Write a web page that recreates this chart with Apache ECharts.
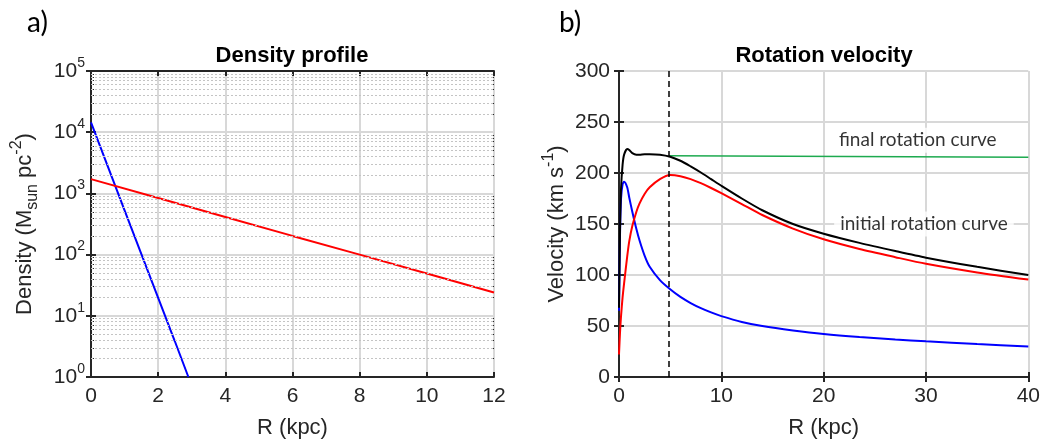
<!DOCTYPE html>
<html>
<head>
<meta charset="utf-8">
<script src="https://cdn.jsdelivr.net/npm/echarts@6/dist/echarts.min.js"></script>
<style>
  html, body { margin: 0; padding: 0; background: #fff; }
  #chart { width: 1043px; height: 444px; }
</style>
</head>
<body>
<div id="chart"></div>
<script>
// a) density profile (log axis)
const densBulgeR = [0, 0.5, 1, 1.5, 2, 2.5, 2.9];
const densBulge = [14500, 2770, 530, 102, 19.6, 3.8, 1];
const densDiskR = [0, 2, 4, 6, 8, 10, 12];
const densDisk = [1710, 840, 412, 202, 100, 49, 24];
const densExp = [0, 1, 2, 3, 4, 5];
const densMinor = [2, 3, 4, 5, 6, 7, 8, 9, 20, 30, 40, 50, 60, 70, 80, 90,
  200, 300, 400, 500, 600, 700, 800, 900, 2000, 3000, 4000, 5000, 6000, 7000, 8000, 9000,
  20000, 30000, 40000, 50000, 60000, 70000, 80000, 90000];

// b) rotation velocity
const rotR = [0, 0.1, 0.2, 0.35, 0.5, 0.8, 1, 1.3, 1.7, 2, 2.5, 3, 4, 5, 6, 7, 8, 9, 10, 12, 14, 17, 20, 23.5, 27, 30, 35, 40];
const vBulge = [65, 140, 175, 189, 191.5, 186, 176, 162, 145, 134, 119, 108, 95, 86, 78.5, 72.5, 67.5, 63.3, 59.7, 54, 50, 45.7, 42.2, 39.2, 36.8, 35, 32.3, 30];
const vDisk = [22, 44, 60, 78, 92, 118, 133, 148, 162, 170, 179.5, 186, 194, 198, 196.8, 194, 190, 185.3, 180.2, 169.5, 158.8, 145.5, 135, 125.5, 117.5, 111, 102.5, 95.5];
const vTotal = [68, 145, 185, 208, 218, 223.5, 222.5, 219.5, 218, 218, 218.5, 218.5, 218, 216, 212, 206.5, 200.5, 194, 187.5, 175, 163.5, 150, 140.5, 131.5, 123.5, 117, 108, 100];
const finalR = [4.9, 40];
const vFinal = [217, 215.5];
const cutR = 4.9;
const noteNames = ['final rotation curve', 'initial rotation curve'];
const noteR = [29.2, 29.8];
const noteV = [232, 150];

const axisColor = '#262626';
const gridColor = '#d8d8d8';
const font = 'Liberation Sans';

let chart = echarts.init(document.getElementById('chart'));

const zip = (xs, ys) => xs.map((x, i) => [x, ys[i]]);

const tickStyle = (show) => ({
  axisLine: { show: true, lineStyle: { color: axisColor, width: 2 } },
  axisTick: { show: true, inside: true, length: 5, lineStyle: { color: axisColor, width: 2 } },
  axisLabel: { show: show, color: axisColor, fontFamily: font, fontSize: 21, margin: 9 },
  splitLine: { show: false },
});

const mainX = (gridIndex, max, interval) => Object.assign(tickStyle(true), {
  type: 'value', gridIndex, min: 0, max, interval, position: 'bottom',
  name: 'R (kpc)', nameLocation: 'middle', nameGap: 40,
  nameTextStyle: { color: axisColor, fontFamily: font, fontSize: 22 },
  splitLine: { show: true, lineStyle: { color: gridColor, width: 2 } },
});
const topX = (gridIndex, max, interval) => Object.assign(tickStyle(false), {
  type: 'value', gridIndex, min: 0, max, interval, position: 'top',
});
// short minor ticks on the log axis
const minorLogY = (position) => ({
  type: 'log', logBase: 10, gridIndex: 0, min: 1, max: 100000, position,
  axisLine: { show: false },
  axisLabel: { show: false },
  splitLine: { show: false },
  axisTick: { show: true, inside: true, length: 3, customValues: densMinor, lineStyle: { color: axisColor, width: 1 } },
});

let option = {
  animation: false,
  backgroundColor: '#fff',
  grid: [
    { left: 91, top: 71, width: 403, height: 309 },
    { left: 619, top: 71, width: 410.5, height: 310 },
  ],
  graphic: [
    { type: 'text', x: 27, y: 23, style: { text: 'a)', font: '28px Lato', fill: '#000', textAlign: 'left', textVerticalAlign: 'middle' } },
    { type: 'text', x: 559, y: 23, style: { text: 'b)', font: '28px Lato', fill: '#000', textAlign: 'left', textVerticalAlign: 'middle' } },
    { type: 'text', x: 292, y: 56, style: { text: 'Density profile', font: 'bold 22px "Liberation Sans"', fill: '#000', textAlign: 'center', textVerticalAlign: 'middle' } },
    { type: 'text', x: 824, y: 56, style: { text: 'Rotation velocity', font: 'bold 22px "Liberation Sans"', fill: '#000', textAlign: 'center', textVerticalAlign: 'middle' } },
  ],
  xAxis: [
    mainX(0, 12, 2), topX(0, 12, 2),
    mainX(1, 40, 10), topX(1, 40, 10),
  ],
  yAxis: [
    Object.assign(tickStyle(true), {
      type: 'log', logBase: 10, gridIndex: 0, min: 1, max: 100000, position: 'left',
      splitLine: { show: true, lineStyle: { color: gridColor, width: 2 } },
      axisLabel: {
        color: axisColor, fontFamily: font, fontSize: 21, margin: 6,
        formatter: (v) => '{b|10}{sup|' + densExp[Math.round(Math.log10(v))] + '}',
        rich: {
          b: { fontFamily: font, fontSize: 21, color: axisColor, lineHeight: 30, verticalAlign: 'middle' },
          sup: { fontFamily: font, fontSize: 14, color: axisColor, verticalAlign: 'top' },
        },
      },
      name: '{b|Density (M}{sub|sun}{b| pc}{sup|-2}{b|)}',
      nameLocation: 'middle', nameGap: 50,
      nameTextStyle: {
        rich: {
          b: { fontFamily: font, fontSize: 22, color: axisColor, lineHeight: 32, verticalAlign: 'middle' },
          sub: { fontFamily: font, fontSize: 16, color: axisColor, verticalAlign: 'bottom' },
          sup: { fontFamily: font, fontSize: 16, color: axisColor, verticalAlign: 'top' },
        },
      },
    }),
    Object.assign(tickStyle(false), {
      type: 'log', logBase: 10, gridIndex: 0, min: 1, max: 100000, position: 'right',
    }),
    Object.assign(tickStyle(true), {
      type: 'value', gridIndex: 1, min: 0, max: 300, interval: 50, position: 'left',
      splitLine: { show: true, lineStyle: { color: gridColor, width: 2 } },
      name: '{b|Velocity (km s}{sup|-1}{b|)}',
      nameLocation: 'middle', nameGap: 46,
      nameTextStyle: {
        rich: {
          b: { fontFamily: font, fontSize: 22, color: axisColor, lineHeight: 32, verticalAlign: 'middle' },
          sup: { fontFamily: font, fontSize: 16, color: axisColor, verticalAlign: 'top' },
        },
      },
    }),
    Object.assign(tickStyle(false), {
      type: 'value', gridIndex: 1, min: 0, max: 300, interval: 50, position: 'right',
    }),
    minorLogY('left'),
    minorLogY('right'),
  ],
  series: [
    // minor log grid (dotted)
    {
      type: 'line', xAxisIndex: 0, yAxisIndex: 0, data: [], z: 1, silent: true,
      markLine: {
        silent: true, symbol: 'none', label: { show: false },
        lineStyle: { color: '#c4c4c4', type: [2, 2], width: 1 },
        data: densMinor.map((v) => ({ yAxis: v })),
      },
    },
    {
      type: 'line', xAxisIndex: 0, yAxisIndex: 0, data: zip(densBulgeR, densBulge),
      showSymbol: false, lineStyle: { color: '#0000ff', width: 2 }, z: 3,
    },
    {
      type: 'line', xAxisIndex: 0, yAxisIndex: 0, data: zip(densDiskR, densDisk),
      showSymbol: false, lineStyle: { color: '#ff0000', width: 2 }, z: 3,
    },
    // text notes
    {
      type: 'scatter', xAxisIndex: 2, yAxisIndex: 2, symbolSize: 0, z: 2,
      data: noteR.map((r, i) => ({ value: [r, noteV[i]], name: noteNames[i] })),
      label: {
        show: true, position: 'inside', formatter: '{b}',
        fontFamily: 'Lato', fontSize: 19, color: '#000',
        backgroundColor: '#fff', padding: [3, 6],
      },
    },
    {
      type: 'line', xAxisIndex: 2, yAxisIndex: 2, data: zip(finalR, vFinal),
      showSymbol: false, lineStyle: { color: '#1daa4f', width: 1.5 }, z: 3,
    },
    {
      type: 'line', xAxisIndex: 2, yAxisIndex: 2, data: zip(rotR, vBulge),
      showSymbol: false, smooth: 0.25, lineStyle: { color: '#0000ff', width: 2 }, z: 3,
    },
    {
      type: 'line', xAxisIndex: 2, yAxisIndex: 2, data: zip(rotR, vDisk),
      showSymbol: false, smooth: 0.25, lineStyle: { color: '#ff0000', width: 2 }, z: 3,
    },
    {
      type: 'line', xAxisIndex: 2, yAxisIndex: 2, data: zip(rotR, vTotal),
      showSymbol: false, smooth: 0.25, lineStyle: { color: '#000', width: 2 }, z: 4,
      markLine: {
        silent: true, symbol: 'none', label: { show: false },
        lineStyle: { color: '#000', type: [6, 4], width: 1.5 },
        data: [{ xAxis: cutR }],
      },
    },
  ],
};

chart.setOption(option);
window.addEventListener('resize', function () {
  chart && chart.resize();
});
</script>
</body>
</html>
